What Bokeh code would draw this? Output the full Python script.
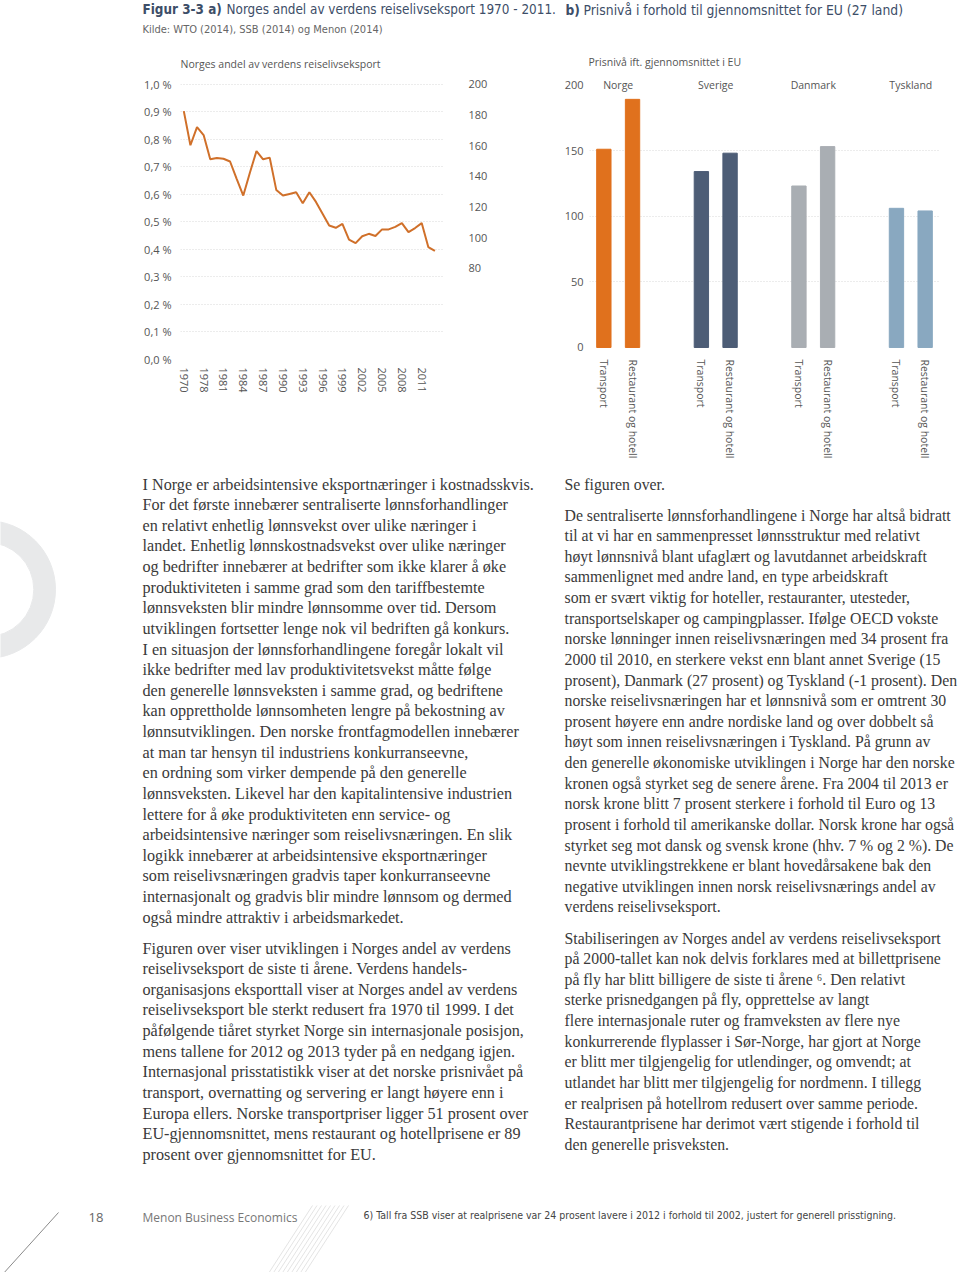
from bokeh.plotting import figure
from bokeh.layouts import column, row
from bokeh.models import (Range1d, LinearAxis, FixedTicker, CustomJSTickFormatter,
                          FactorRange, ColumnDataSource)
from bokeh.core.properties import value
from bokeh.embed import file_html
from bokeh.resources import INLINE

# ---------------- data ----------------
years = ["1970", "1976", "1977", "1978", "1979", "1980", "1981", "1982", "1983", "1984",
         "1985", "1986", "1987", "1988", "1989", "1990", "1991", "1992", "1993", "1994",
         "1995", "1996", "1997", "1998", "1999", "2000", "2001", "2002", "2003", "2004",
         "2005", "2006", "2007", "2008", "2009", "2010", "2011", "2012", "2013"]
share = [0.903, 0.779, 0.845, 0.816, 0.728, 0.733, 0.730, 0.720, 0.657, 0.596,
         0.679, 0.758, 0.728, 0.734, 0.616, 0.596, 0.602, 0.608, 0.568, 0.608,
         0.573, 0.530, 0.487, 0.479, 0.493, 0.436, 0.423, 0.448, 0.457, 0.449,
         0.473, 0.473, 0.482, 0.496, 0.463, 0.478, 0.496, 0.409, 0.395]
shown_years = ["1970", "1978", "1981", "1984", "1987", "1990", "1993", "1996",
               "1999", "2002", "2005", "2008", "2011"]
left_ticks = [0.0, 0.1, 0.2, 0.3, 0.4, 0.5, 0.6, 0.7, 0.8, 0.9, 1.0]
right_ticks = [80, 100, 120, 140, 160, 180, 200]

countries = ["Norge", "Sverige", "Danmark", "Tyskland"]
sectors = ["Transport", "Restaurant og hotell"]
price_transport = [151, 134, 123, 106]
price_resthotel = [189, 148, 153, 104]
country_colors = ["#e0711d", "#4d5d76", "#a9aeb3", "#89a8c0"]
bar_ticks = [0, 50, 100, 150, 200]

title_a = "Figur 3-3 a)"
title_a_text = "Norges andel av verdens reiselivseksport 1970 - 2011."
title_b = "b)"
title_b_text = "Prisnivå i forhold til gjennomsnittet for EU (27 land)"
source_text = "Kilde: WTO (2014), SSB (2014) og Menon (2014)"
sub_a = "Norges andel av verdens reiselivseksport"
sub_b = "Prisnivå ift. gjennomsnittet i EU"

left_par1 = [
    "I Norge er arbeidsintensive eksportnæringer i kostnadsskvis.",
    "For det første innebærer sentraliserte lønnsforhandlinger",
    "en relativt enhetlig lønnsvekst over ulike næringer i",
    "landet. Enhetlig lønnskostnadsvekst over ulike næringer",
    "og bedrifter innebærer at bedrifter som ikke klarer å øke",
    "produktiviteten i samme grad som den tariffbestemte",
    "lønnsveksten blir mindre lønnsomme over tid. Dersom",
    "utviklingen fortsetter lenge nok vil bedriften gå konkurs.",
    "I en situasjon der lønnsforhandlingene foregår lokalt vil",
    "ikke bedrifter med lav produktivitetsvekst måtte følge",
    "den generelle lønnsveksten i samme grad, og bedriftene",
    "kan opprettholde lønnsomheten lengre på bekostning av",
    "lønnsutviklingen. Den norske frontfagmodellen innebærer",
    "at man tar hensyn til industriens konkurranseevne,",
    "en ordning som virker dempende på den generelle",
    "lønnsveksten. Likevel har den kapitalintensive industrien",
    "lettere for å øke produktiviteten enn service- og",
    "arbeidsintensive næringer som reiselivsnæringen. En slik",
    "logikk innebærer at arbeidsintensive eksportnæringer",
    "som reiselivsnæringen gradvis taper konkurranseevne",
    "internasjonalt og gradvis blir mindre lønnsom og dermed",
    "også mindre attraktiv i arbeidsmarkedet.",
]
left_par2 = [
    "Figuren over viser utviklingen i Norges andel av verdens",
    "reiselivseksport de siste ti årene. Verdens handels-",
    "organisasjons eksporttall viser at Norges andel av verdens",
    "reiselivseksport ble sterkt redusert fra 1970 til 1999. I det",
    "påfølgende tiåret styrket Norge sin internasjonale posisjon,",
    "mens tallene for 2012 og 2013 tyder på en nedgang igjen.",
    "Internasjonal prisstatistikk viser at det norske prisnivået på",
    "transport, overnatting og servering er langt høyere enn i",
    "Europa ellers. Norske transportpriser ligger 51 prosent over",
    "EU-gjennomsnittet, mens restaurant og hotellprisene er 89",
    "prosent over gjennomsnittet for EU.",
]
right_par0 = ["Se figuren over."]
right_par1 = [
    "De sentraliserte lønnsforhandlingene i Norge har altså bidratt",
    "til at vi har en sammenpresset lønnsstruktur med relativt",
    "høyt lønnsnivå blant ufaglært og lavutdannet arbeidskraft",
    "sammenlignet med andre land, en type arbeidskraft",
    "som er svært viktig for hoteller, restauranter, utesteder,",
    "transportselskaper og campingplasser. Ifølge OECD vokste",
    "norske lønninger innen reiselivsnæringen med 34 prosent fra",
    "2000 til 2010, en sterkere vekst enn blant annet Sverige (15",
    "prosent), Danmark (27 prosent) og Tyskland (-1 prosent). Den",
    "norske reiselivsnæringen har et lønnsnivå som er omtrent 30",
    "prosent høyere enn andre nordiske land og over dobbelt så",
    "høyt som innen reiselivsnæringen i Tyskland. På grunn av",
    "den generelle økonomiske utviklingen i Norge har den norske",
    "kronen også styrket seg de senere årene. Fra 2004 til 2013 er",
    "norsk krone blitt 7 prosent sterkere i forhold til Euro og 13",
    "prosent i forhold til amerikanske dollar. Norsk krone har også",
    "styrket seg mot dansk og svensk krone (hhv. 7 % og 2 %). De",
    "nevnte utviklingstrekkene er blant hovedårsakene bak den",
    "negative utviklingen innen norsk reiselivsnærings andel av",
    "verdens reiselivseksport.",
]
right_par2 = [
    "Stabiliseringen av Norges andel av verdens reiselivseksport",
    "på 2000-tallet kan nok delvis forklares med at billettprisene",
    "på fly har blitt billigere de siste ti årene ⁶. Den relativt",
    "sterke prisnedgangen på fly, opprettelse av langt",
    "flere internasjonale ruter og framveksten av flere nye",
    "konkurrerende flyplasser i Sør-Norge, har gjort at Norge",
    "er blitt mer tilgjengelig for utlendinger, og omvendt; at",
    "utlandet har blitt mer tilgjengelig for nordmenn. I tillegg",
    "er realprisen på hotellrom redusert over samme periode.",
    "Restaurantprisene har derimot vært stigende i forhold til",
    "den generelle prisveksten.",
]
page_number = "18"
footer_name = "Menon Business Economics"
footnote = "6)  Tall fra SSB viser at realprisene var 24 prosent lavere i 2012 i forhold til 2002, justert for generell prisstigning."

# ---------------- styles ----------------
SANS = "Open Sans"
NARROW = "'DejaVu Sans Condensed', 'Liberation Sans', sans-serif"
SERIF = "Liberation Serif"
LABEL_C = "#555555"
TITLE_C = "#3d4e68"
BODY_C = "#3a3a3a"
GRID_C = "#d8d8d8"


def blank(fig):
    fig.xaxis.visible = False
    fig.yaxis.visible = False
    fig.xgrid.visible = False
    fig.ygrid.visible = False
    fig.outline_line_color = None
    fig.min_border = 0


def style_axis(ax, size):
    ax.axis_line_color = None
    ax.major_tick_line_color = None
    ax.minor_tick_line_color = None
    ax.major_tick_out = 0
    ax.major_tick_in = 0
    ax.minor_tick_out = 0
    ax.major_label_text_font = SANS
    ax.major_label_text_font_size = size
    ax.major_label_text_color = LABEL_C


# ---------------- header ----------------
head = figure(width=960, height=75, x_range=Range1d(0, 960), y_range=Range1d(75, 0),
              output_backend="svg", toolbar_location=None)
blank(head)
common = dict(text_baseline="middle", text_align="left")
head.text(x=[142], y=[9], text=[title_a], text_font=value(NARROW), text_font_style="bold",
          text_font_size="13.4px", text_color=TITLE_C, **common)
head.text(x=[226], y=[9], text=[title_a_text], text_font=value(NARROW),
          text_font_size="13.4px", text_color=TITLE_C, **common)
head.text(x=[565], y=[9], text=[title_b], text_font=value(NARROW), text_font_style="bold",
          text_font_size="13.7px", text_color=TITLE_C, **common)
head.text(x=[583], y=[9], text=[title_b_text], text_font=value(NARROW),
          text_font_size="13.8px", text_color=TITLE_C, **common)
head.text(x=[142], y=[29], text=[source_text], text_font=value(NARROW),
          text_font_size="11px", text_color="#666666", **common)
head.text(x=[180], y=[63], text=[sub_a], text_font=value(SANS),
          text_font_size="10.5px", text_color=LABEL_C, **common)
head.text(x=[588], y=[61], text=[sub_b], text_font=value(SANS),
          text_font_size="10.5px", text_color=LABEL_C, **common)

# ---------------- line chart ----------------
idx = list(range(len(years)))
lp = figure(width=520, height=395, x_range=Range1d(-0.5, 39.3), y_range=Range1d(0, 1.029),
            output_backend="svg", toolbar_location=None)
lp.min_border_left = 180
lp.min_border_right = 77
lp.min_border_top = 1
lp.min_border_bottom = 111
lp.outline_line_color = None
lp.line(x=idx, y=share, line_color="#d0702a", line_width=2)

lp.xaxis.ticker = FixedTicker(ticks=[years.index(y) for y in shown_years])
lp.xaxis.major_label_overrides = {years.index(y): y for y in shown_years}
lp.xaxis.major_label_orientation = "vertical"
lp.yaxis.ticker = FixedTicker(ticks=left_ticks)
lp.yaxis.formatter = CustomJSTickFormatter(code="return tick.toFixed(1).replace('.', ',') + ' %';")
lp.extra_y_ranges = {"idx": Range1d(20.65, 205.2)}
rax = LinearAxis(y_range_name="idx", ticker=FixedTicker(ticks=right_ticks))
lp.add_layout(rax, "right")
for ax in [lp.xaxis[0], lp.yaxis[0], rax]:
    style_axis(ax, "11px")
lp.xaxis.major_label_standoff = 8
lp.yaxis[0].major_label_standoff = 9
rax.major_label_standoff = 25
lp.xgrid.visible = False
lp.ygrid.ticker = FixedTicker(ticks=left_ticks)
lp.ygrid.grid_line_color = GRID_C
lp.ygrid.grid_line_dash = "1 2"

# ---------------- bar chart ----------------
factors = [(c, s) for c in countries for s in sectors]
vals = []
cols = []
for i, c in enumerate(countries):
    vals += [price_transport[i], price_resthotel[i]]
    cols += [country_colors[i], country_colors[i]]
src = ColumnDataSource(dict(x=factors, top=vals, color=cols))
bp = figure(width=440, height=395, x_range=FactorRange(*factors), y_range=Range1d(-9.14, 206.4),
            output_backend="svg", toolbar_location=None)
bp.min_border_left = 69
bp.min_border_right = 21
bp.min_border_top = 1
bp.min_border_bottom = 111
bp.outline_line_color = None
bp.vbar(x="x", top="top", bottom=0, width=0.5, color="color", source=src)
bp.text(x=countries, y=[200] * 4, text=countries, text_align="center", text_baseline="middle",
        text_font=value(SANS), text_font_size="10.5px", text_color=LABEL_C)
bp.yaxis.ticker = FixedTicker(ticks=bar_ticks)
bp.xgrid.visible = False
bp.ygrid.ticker = FixedTicker(ticks=[50, 100, 150])
bp.ygrid.grid_line_color = GRID_C
bp.ygrid.grid_line_dash = "1 2"
for ax in [bp.xaxis[0], bp.yaxis[0]]:
    style_axis(ax, "10.5px")
bp.yaxis.major_label_text_font_size = "11px"
bp.yaxis.major_label_standoff = 6
bp.xaxis.major_label_orientation = "vertical"
bp.xaxis.major_label_standoff = 0
bp.xaxis.group_text_font_size = "0px"
bp.xaxis.group_text_alpha = 0
bp.xaxis.separator_line_alpha = 0

# ---------------- body ----------------
body = figure(width=960, height=802, x_range=Range1d(0, 960), y_range=Range1d(1272, 470),
              output_backend="svg", toolbar_location=None)
blank(body)
body.annulus(x=[-13.9], y=[589], inner_radius=47.2, outer_radius=68.9, color="#e8e9ea")

STEP = 20.63


def para(lines, x0, y0, size):
    ys = [y0 + i * STEP for i in range(len(lines))]
    body.text(x=[x0] * len(lines), y=ys, text=lines, text_font=value(SERIF),
              text_font_size=size, text_color=BODY_C, text_baseline="middle",
              text_align="left")


para(left_par1, 142, 484, "16.2px")
para(left_par2, 142, 948, "16.2px")
para(right_par0, 564, 484, "15.8px")
para(right_par1, 564, 514.5, "15.8px")
para(right_par2, 564, 937.5, "15.8px")

body.text(x=[88], y=[1217], text=[page_number], text_font=value(SANS), text_font_size="13px",
          text_color="#666666", text_baseline="middle")
body.text(x=[142], y=[1217], text=[footer_name], text_font=value(SANS), text_font_size="12px",
          text_color="#777777", text_baseline="middle")
body.text(x=[363], y=[1214], text=[footnote], text_font=value(NARROW), text_font_size="10.5px",
          text_color="#444444", text_baseline="middle")
body.segment(x0=[58], y0=[1212], x1=[2], y1=[1274], line_color="#8a8a8a", line_width=1)
hx = [312, 316.5, 321, 325.5, 330, 334.5, 339, 343.5, 348]
body.segment(x0=hx, y0=[1205] * len(hx), x1=[h - 46 for h in hx], y1=[1276] * len(hx),
             line_color="#e4e4e4", line_width=1)

layout = column(head, row(lp, bp), body)
open("out.html", "w").write(file_html(layout, INLINE))
